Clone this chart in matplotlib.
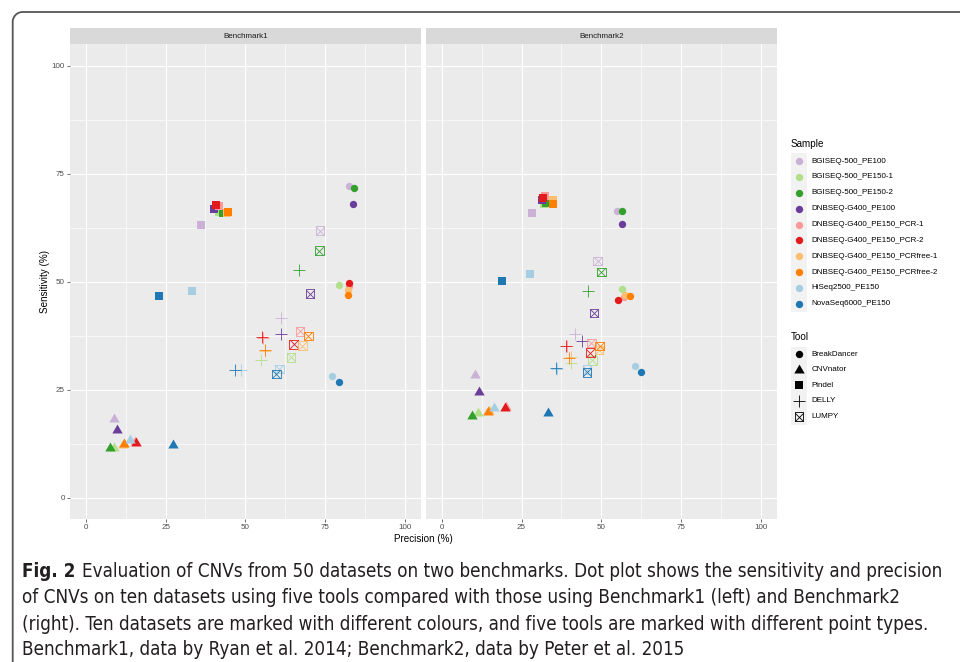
import matplotlib
matplotlib.use("Agg")
import matplotlib.pyplot as plt
import numpy as np
from matplotlib.patches import Rectangle

plt.rcParams["font.family"] = ["Liberation Sans", "DejaVu Sans"]

samples = ["BGISEQ-500_PE100", "BGISEQ-500_PE150-1", "BGISEQ-500_PE150-2",
           "DNBSEQ-G400_PE100", "DNBSEQ-G400_PE150_PCR-1", "DNBSEQ-G400_PE150_PCR-2",
           "DNBSEQ-G400_PE150_PCRfree-1", "DNBSEQ-G400_PE150_PCRfree-2",
           "HiSeq2500_PE150", "NovaSeq6000_PE150"]
palette = ["#CAB2D6", "#B2DF8A", "#33A02C", "#6A3D9A", "#FB9A99",
           "#E31A1C", "#FDBF6F", "#FF7F00", "#A6CEE3", "#1F78B4"]
tools = ["BreakDancer", "CNVnator", "Pindel", "DELLY", "LUMPY"]
benchmarks = ["Benchmark1", "Benchmark2"]

# precision / sensitivity (%), samples in legend order
b1_breakdancer_prec = [82.6, 79.5, 84.1, 83.8, 82.5, 82.5, 82.3, 82.2, 77.2, 79.5]
b1_breakdancer_sens = [72.1, 49.2, 71.7, 68.0, 49.0, 49.6, 48.0, 47.0, 28.2, 26.8]
b1_cnvnator_prec = [8.7, 8.9, 7.5, 9.9, 15.5, 15.8, 11.5, 11.8, 13.7, 27.4]
b1_cnvnator_sens = [18.2, 11.5, 11.5, 15.6, 13.0, 12.7, 12.3, 12.5, 13.3, 12.3]
b1_pindel_prec = [36.2, 41.9, 43.1, 40.3, 41.7, 40.9, 44.2, 44.6, 33.4, 23.0]
b1_pindel_sens = [63.2, 66.1, 65.8, 66.9, 67.6, 67.8, 66.0, 66.2, 47.8, 46.7]
b1_delly_prec = [61.2, 54.9, 67.0, 61.2, 55.6, 55.3, 56.3, 56.1, 48.6, 46.9]
b1_delly_sens = [41.5, 31.8, 52.6, 37.9, 37.0, 37.3, 34.0, 34.1, 29.5, 29.6]
b1_lumpy_prec = [73.4, 64.3, 73.2, 70.3, 67.2, 65.2, 67.9, 69.8, 60.7, 59.7]
b1_lumpy_sens = [61.8, 32.5, 57.2, 47.2, 38.5, 35.5, 35.2, 37.4, 29.8, 28.6]

b2_breakdancer_prec = [54.9, 56.5, 56.4, 56.5, 57.0, 55.1, 57.5, 58.9, 60.5, 62.4]
b2_breakdancer_sens = [66.4, 48.3, 66.3, 63.4, 46.5, 45.8, 46.8, 46.6, 30.5, 29.2]
b2_cnvnator_prec = [10.3, 11.5, 9.6, 11.8, 20.2, 19.7, 14.8, 14.5, 16.3, 33.2]
b2_cnvnator_sens = [28.5, 19.7, 19.0, 24.5, 21.1, 20.8, 20.0, 19.8, 20.8, 19.6]
b2_pindel_prec = [28.4, 32.0, 32.8, 31.5, 32.5, 31.6, 34.7, 34.7, 27.5, 18.75]
b2_pindel_sens = [66.0, 68.0, 68.2, 69.0, 69.8, 69.4, 68.8, 67.9, 51.8, 50.1]
b2_delly_prec = [41.8, 40.5, 45.9, 43.8, 39.2, 38.9, 40.4, 39.8, 36.1, 35.7]
b2_delly_sens = [37.8, 31.2, 47.9, 36.2, 35.2, 35.0, 32.6, 32.4, 29.9, 30.1]
b2_lumpy_prec = [48.8, 47.2, 50.0, 47.7, 46.8, 46.5, 49.2, 49.4, 45.5, 45.5]
b2_lumpy_sens = [54.8, 31.8, 52.2, 42.7, 35.8, 33.6, 34.2, 35.1, 29.6, 29.0]

b1_data = {
    "BreakDancer": (b1_breakdancer_prec, b1_breakdancer_sens),
    "CNVnator": (b1_cnvnator_prec, b1_cnvnator_sens),
    "Pindel": (b1_pindel_prec, b1_pindel_sens),
    "DELLY": (b1_delly_prec, b1_delly_sens),
    "LUMPY": (b1_lumpy_prec, b1_lumpy_sens),
}
b2_data = {
    "BreakDancer": (b2_breakdancer_prec, b2_breakdancer_sens),
    "CNVnator": (b2_cnvnator_prec, b2_cnvnator_sens),
    "Pindel": (b2_pindel_prec, b2_pindel_sens),
    "DELLY": (b2_delly_prec, b2_delly_sens),
    "LUMPY": (b2_lumpy_prec, b2_lumpy_sens),
}

# ggplot-like triangle (centred on centroid)
tri = [(0, 1), (-0.866, -0.5), (0.866, -0.5), (0, 1)]


def draw_tool(ax, tool, x, y, color):
    if tool == "BreakDancer":
        ax.scatter(x, y, s=5.3 ** 2, marker="o", c=color, linewidths=0, zorder=3)
    elif tool == "CNVnator":
        ax.scatter(x, y, s=8.6 ** 2, marker=tri, c=color, linewidths=0, zorder=3)
    elif tool == "Pindel":
        ax.scatter(x, y, s=5.8 ** 2, marker="s", c=color, linewidths=0, zorder=3)
    elif tool == "DELLY":
        ax.scatter(x, y, s=8.3 ** 2, marker="+", c=color, linewidths=0.6, zorder=3)
    else:
        ax.scatter(x, y, s=6.2 ** 2, marker="s", facecolors="none",
                   edgecolors=color, linewidths=0.6, zorder=3)
        ax.scatter(x, y, s=6.2 ** 2, marker="x", c=color, linewidths=0.6, zorder=3)


W, H = 960, 662
fig = plt.figure(figsize=(W / 100, H / 100), dpi=100)
fig.patch.set_facecolor("white")

bottom, top = 519.3, 44
panels = [(70, 420.6), (425.6, 777.3)]
axes = []
for i, (l, r) in enumerate(panels):
    ax = fig.add_axes([l / W, 1 - bottom / H, (r - l) / W, (bottom - top) / H])
    ax.set_facecolor("#EBEBEB")
    ax.set_xlim(-5, 105)
    ax.set_ylim(-5, 105)
    ax.set_xticks([0, 25, 50, 75, 100])
    ax.set_yticks([0, 25, 50, 75, 100])
    ax.set_xticks([12.5, 37.5, 62.5, 87.5], minor=True)
    ax.set_yticks([12.5, 37.5, 62.5, 87.5], minor=True)
    ax.grid(which="major", color="white", linewidth=0.8)
    ax.grid(which="minor", color="white", linewidth=0.45)
    ax.set_axisbelow(True)
    for s in ax.spines.values():
        s.set_visible(False)
    ax.tick_params(which="major", length=2.2, width=0.5, color="#333333",
                   labelsize=5.8, labelcolor="#4D4D4D", pad=1.5)
    ax.tick_params(which="minor", length=0)
    if i == 1:
        ax.tick_params(axis="y", which="both", left=False, labelleft=False)
    # facet strip
    strip_h = 16 / (bottom - top)
    ax.add_patch(Rectangle((0, 1), 1, strip_h, transform=ax.transAxes,
                           facecolor="#D9D9D9", edgecolor="none", clip_on=False))
    ax.text(0.5, 1 + strip_h / 2, benchmarks[i], transform=ax.transAxes,
            ha="center", va="center", fontsize=5.8, color="#1A1A1A")
    axes.append(ax)

for ax, data in zip(axes, [b1_data, b2_data]):
    for tool in tools:
        prec, sens = data[tool]
        for k in range(len(samples)):
            draw_tool(ax, tool, prec[k], sens[k], palette[k])

fig.text(423.5 / W, 1 - 539 / H, "Precision (%)", ha="center", va="center", fontsize=7.1)
fig.text(45 / W, 1 - 281.5 / H, "Sensitivity (%)", ha="center", va="center",
         rotation=90, fontsize=7.1)

# overlay in pixel coordinates for legend, frame and caption
ov = fig.add_axes([0, 0, 1, 1], zorder=5)
ov.set_xlim(0, W)
ov.set_ylim(H, 0)
ov.axis("off")
ov.patch.set_alpha(0)

# frame: left and top edges joined by a rounded corner
rad = 10
fx, fy = 12.7, 12
t = np.linspace(np.pi, np.pi / 2, 20)
corner_x = fx + rad + rad * np.cos(t)
corner_y = fy + rad - rad * np.sin(t)
ov.plot(np.r_[fx, corner_x, W], np.r_[H, corner_y, fy], color="#555555",
        linewidth=1.3, solid_capstyle="butt")

# legend: Sample
key_x = 799
ov.text(790.7, 144, "Sample", ha="left", va="center", fontsize=7.1)
sample_y = [161.3, 177, 192.7, 208.5, 224.5, 240.3, 256, 272, 287.8, 303.7]
ov.add_patch(Rectangle((790.7, 153), 16, 158.7, facecolor="#F2F2F2", edgecolor="none"))
for k, name in enumerate(samples):
    ov.scatter(key_x, sample_y[k], s=5.3 ** 2, c=palette[k], linewidths=0)
    ov.text(811.7, sample_y[k], name, ha="left", va="center", fontsize=5.8)

# legend: Tool
ov.text(790.7, 336.7, "Tool", ha="left", va="center", fontsize=7.1)
tool_y = [354, 369.5, 385.2, 400.8, 416.7]
ov.add_patch(Rectangle((790.7, 346.5), 16, 78, facecolor="#F2F2F2", edgecolor="none"))
for k, name in enumerate(tools):
    draw_tool(ov, name, key_x, tool_y[k], "black")
    ov.text(811.7, tool_y[k], name, ha="left", va="center", fontsize=5.8)

# caption
cap_kw = dict(family=["DejaVu Sans", "Liberation Sans"], fontstretch="condensed",
              color="#231F20", ha="left", va="baseline")
lead = "Fig. 2"
line1 = "Evaluation of CNVs from 50 datasets on two benchmarks. Dot plot shows the sensitivity and precision"
rest = [
    "of CNVs on ten datasets using five tools compared with those using Benchmark1 (left) and Benchmark2",
    "(right). Ten datasets are marked with different colours, and five tools are marked with different point types.",
    "Benchmark1, data by Ryan et al. 2014; Benchmark2, data by Peter et al. 2015",
]
cap_x = 22
cap_right = 947
cap_y = [576.7, 603, 629.5, 655]
gap = 7

# fit the font size so the first line spans the same width as in the reference
fig.canvas.draw()
renderer = fig.canvas.get_renderer()
fs0 = 12.0
probe_a = ov.text(0, 0, lead, fontsize=fs0, fontweight="bold", **cap_kw)
probe_b = ov.text(0, 0, line1, fontsize=fs0, **cap_kw)
probe_c = ov.text(0, 0, rest[1], fontsize=fs0, **cap_kw)
wa = probe_a.get_window_extent(renderer).width
wb = probe_b.get_window_extent(renderer).width
wc = probe_c.get_window_extent(renderer).width
for p in (probe_a, probe_b, probe_c):
    p.remove()
need = max(wa + gap + wb, wc)
fs = fs0 * (cap_right - cap_x) / need

t_lead = ov.text(cap_x, cap_y[0], lead, fontsize=fs, fontweight="bold", **cap_kw)
fig.canvas.draw()
lead_w = t_lead.get_window_extent(renderer).width
ov.text(cap_x + lead_w + gap, cap_y[0], line1, fontsize=fs, **cap_kw)
for txt, yy in zip(rest, cap_y[1:]):
    ov.text(cap_x, yy, txt, fontsize=fs, **cap_kw)

fig.savefig("out.png", dpi=100)
